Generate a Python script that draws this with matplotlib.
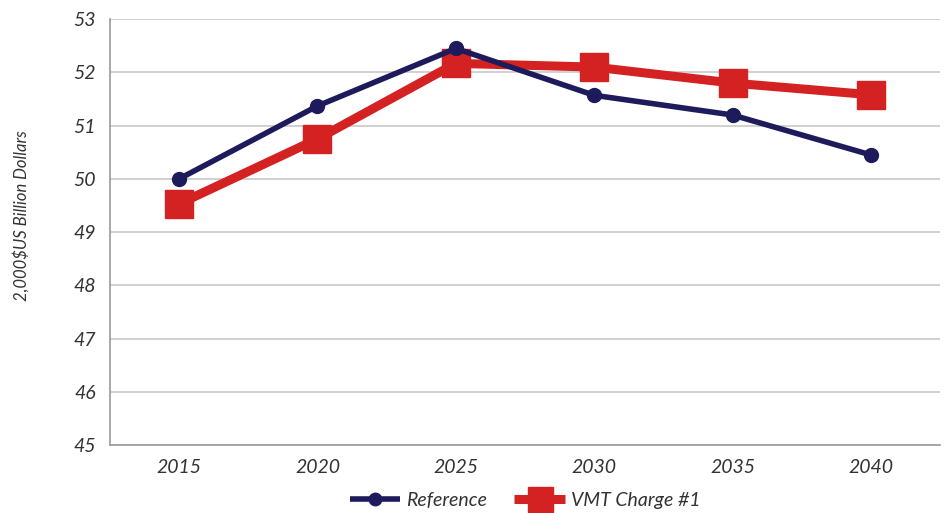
import matplotlib
matplotlib.use("Agg")
import matplotlib.pyplot as plt

plt.rcParams["font.family"] = ["Lato", "DejaVu Sans"]

years = ["2015", "2020", "2025", "2030", "2035", "2040"]
reference = [50.0, 51.37, 52.45, 51.57, 51.2, 50.45]
vmt_charge = [49.53, 50.75, 52.17, 52.1, 51.8, 51.58]
y_ticks = [45, 46, 47, 48, 49, 50, 51, 52, 53]

navy = "#1e1b5c"
red = "#d42222"
text_color = "#333333"

fig = plt.figure(figsize=(9.44, 5.13), dpi=100)
ax = fig.add_axes([0.1165, 0.1326, 0.8793, 0.830])

x = list(range(len(years)))
ax.plot(x, reference, color=navy, lw=4, marker="o", ms=10, zorder=3,
        label="Reference", solid_capstyle="butt")
ax.plot(x, vmt_charge, color=red, lw=6.5, marker="s", ms=20, zorder=2,
        label="VMT Charge #1", solid_capstyle="butt")

ax.set_xlim(-0.5, len(years) - 0.5)
ax.set_ylim(45, 53)
ax.set_yticks(y_ticks)
ax.set_xticks(x)
ax.set_xticklabels(years)

ax.grid(axis="y", color="#c8c8c8", lw=1.2)
ax.set_axisbelow(True)
for s in ("top", "right"):
    ax.spines[s].set_visible(False)
for s in ("left", "bottom"):
    ax.spines[s].set_color("#999999")
    ax.spines[s].set_linewidth(1.2)
ax.tick_params(length=0, pad=10, labelsize=14, labelcolor=text_color)
for lbl in ax.get_xticklabels() + ax.get_yticklabels():
    lbl.set_fontstyle("italic")

fig.text(0.022, 0.58, "2,000\\$US Billion Dollars", rotation=90, ha="center",
         va="center", fontsize=12, fontstyle="italic", color=text_color)

leg = fig.legend(loc="center", bbox_to_anchor=(0.556, 0.025), ncol=2,
                 frameon=False, fontsize=14, handlelength=2.6,
                 columnspacing=1.4, handletextpad=0.3, markerscale=0.9)
for t in leg.get_texts():
    t.set_fontstyle("italic")
    t.set_color(text_color)

fig.savefig("out.png", dpi=100)
